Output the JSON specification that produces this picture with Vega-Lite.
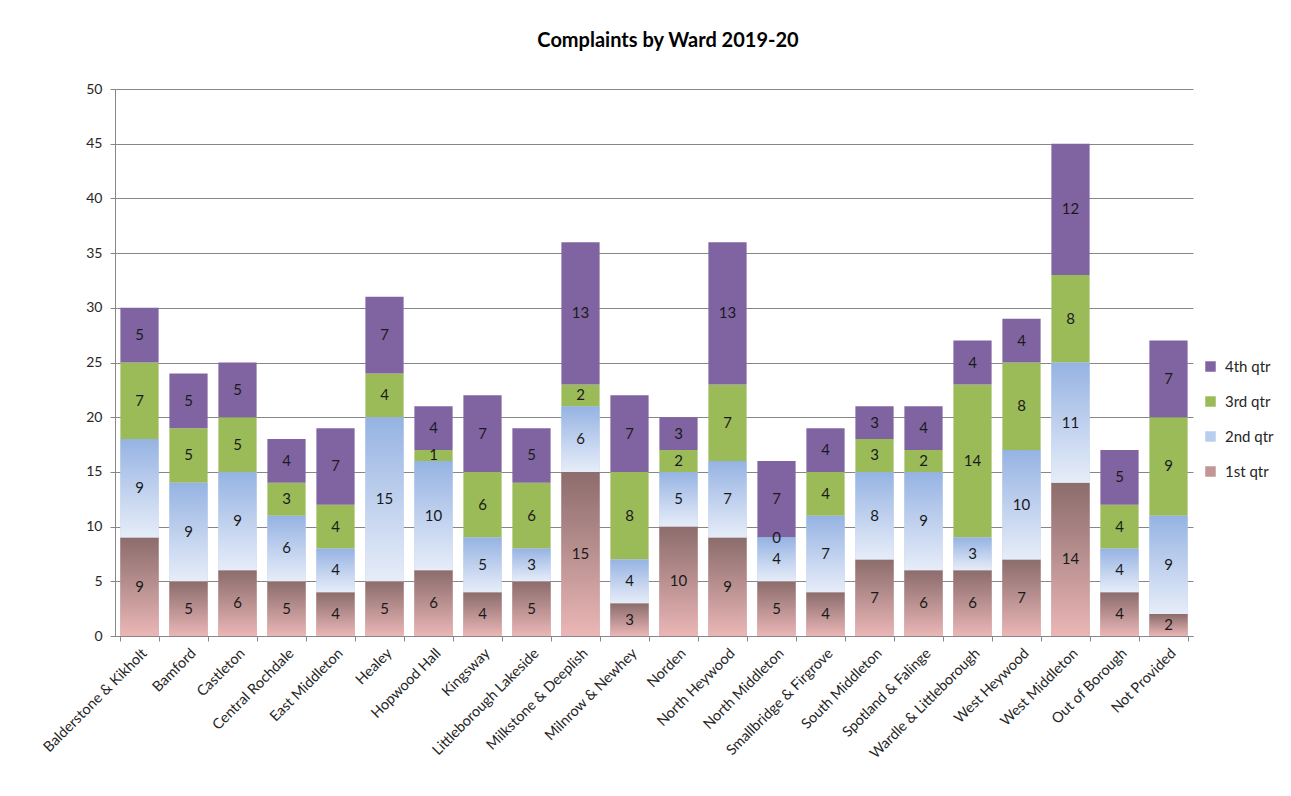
{
  "$schema": "https://vega.github.io/schema/vega-lite/v6.json",
  "autosize": "none",
  "width": 1078,
  "height": 547,
  "padding": {"left": 115, "top": 89, "right": 98, "bottom": 160},
  "background": "white",
  "title": {"text": "Complaints by Ward 2019-20", "font": "Lato", "fontSize": 20, "fontWeight": "bold", "color": "#000000", "offset": 31, "dx": 14},
  "data": {"values": [
    {"ward": "Balderstone & Kikholt", "1st qtr": 9, "2nd qtr": 9, "3rd qtr": 7, "4th qtr": 5},
    {"ward": "Bamford", "1st qtr": 5, "2nd qtr": 9, "3rd qtr": 5, "4th qtr": 5},
    {"ward": "Castleton", "1st qtr": 6, "2nd qtr": 9, "3rd qtr": 5, "4th qtr": 5},
    {"ward": "Central Rochdale", "1st qtr": 5, "2nd qtr": 6, "3rd qtr": 3, "4th qtr": 4},
    {"ward": "East Middleton", "1st qtr": 4, "2nd qtr": 4, "3rd qtr": 4, "4th qtr": 7},
    {"ward": "Healey", "1st qtr": 5, "2nd qtr": 15, "3rd qtr": 4, "4th qtr": 7},
    {"ward": "Hopwood Hall", "1st qtr": 6, "2nd qtr": 10, "3rd qtr": 1, "4th qtr": 4},
    {"ward": "Kingsway", "1st qtr": 4, "2nd qtr": 5, "3rd qtr": 6, "4th qtr": 7},
    {"ward": "Littleborough Lakeside", "1st qtr": 5, "2nd qtr": 3, "3rd qtr": 6, "4th qtr": 5},
    {"ward": "Milkstone & Deeplish", "1st qtr": 15, "2nd qtr": 6, "3rd qtr": 2, "4th qtr": 13},
    {"ward": "Milnrow & Newhey", "1st qtr": 3, "2nd qtr": 4, "3rd qtr": 8, "4th qtr": 7},
    {"ward": "Norden", "1st qtr": 10, "2nd qtr": 5, "3rd qtr": 2, "4th qtr": 3},
    {"ward": "North Heywood", "1st qtr": 9, "2nd qtr": 7, "3rd qtr": 7, "4th qtr": 13},
    {"ward": "North Middleton", "1st qtr": 5, "2nd qtr": 4, "3rd qtr": 0, "4th qtr": 7},
    {"ward": "Smallbridge & Firgrove", "1st qtr": 4, "2nd qtr": 7, "3rd qtr": 4, "4th qtr": 4},
    {"ward": "South Middleton", "1st qtr": 7, "2nd qtr": 8, "3rd qtr": 3, "4th qtr": 3},
    {"ward": "Spotland & Falinge", "1st qtr": 6, "2nd qtr": 9, "3rd qtr": 2, "4th qtr": 4},
    {"ward": "Wardle & Littleborough", "1st qtr": 6, "2nd qtr": 3, "3rd qtr": 14, "4th qtr": 4},
    {"ward": "West Heywood", "1st qtr": 7, "2nd qtr": 10, "3rd qtr": 8, "4th qtr": 4},
    {"ward": "West Middleton", "1st qtr": 14, "2nd qtr": 11, "3rd qtr": 8, "4th qtr": 12},
    {"ward": "Out of Borough", "1st qtr": 4, "2nd qtr": 4, "3rd qtr": 4, "4th qtr": 5},
    {"ward": "Not Provided", "1st qtr": 2, "2nd qtr": 9, "3rd qtr": 9, "4th qtr": 7}
  ]},
  "transform": [
    {"fold": ["1st qtr", "2nd qtr", "3rd qtr", "4th qtr"], "as": ["qtr", "value"]},
    {"stack": "value", "groupby": ["ward"], "sort": [{"field": "qtr", "order": "ascending"}], "as": ["v0", "v1"]},
    {"calculate": "(datum.v0 + datum.v1) / 2", "as": "mid"}
  ],
  "encoding": {
    "x": {
      "field": "ward", "type": "nominal", "sort": null,
      "scale": {"paddingInner": 0.22, "paddingOuter": 0.11},
      "axis": {
        "title": null, "labelAngle": -45, "labelFont": "Lato", "labelFontSize": 14.5, "labelColor": "#262626",
        "tickBand": "extent", "ticks": true, "tickSize": 5, "tickColor": "#878787", "domainColor": "#878787",
        "labelPadding": 5, "grid": false
      }
    }
  },
  "layer": [
    {
      "mark": {"type": "bar"},
      "encoding": {
        "y": {
          "field": "v1", "type": "quantitative", "scale": {"domain": [0, 50]},
          "axis": {
            "title": null, "values": [0, 5, 10, 15, 20, 25, 30, 35, 40, 45, 50],
            "labelFont": "Lato", "labelFontSize": 14, "labelColor": "#262626", "labelPadding": 8,
            "grid": true, "gridColor": "#878787", "domainColor": "#878787", "tickColor": "#878787", "tickSize": 5
          }
        },
        "y2": {"field": "v0"},
        "color": {
          "field": "qtr", "type": "nominal",
          "scale": {"domain": ["4th qtr", "3rd qtr", "2nd qtr", "1st qtr"], "range": ["#8064A2", "#9BBB59", "#B9CDEE", "#C49595"]},
          "legend": {
            "title": null, "orient": "none", "legendX": 1088, "legendY": 270,
            "symbolType": "square", "symbolSize": 110, "symbolStrokeWidth": 0,
            "labelFont": "Lato", "labelFontSize": 15, "labelColor": "#262626", "rowPadding": 19, "labelOffset": 7
          }
        }
      }
    },
    {
      "transform": [{"filter": "datum.qtr === '1st qtr'"}],
      "mark": {"type": "bar", "color": {"gradient": "linear", "x1": 0, "y1": 0, "x2": 0, "y2": 1,
        "stops": [{"offset": 0, "color": "#8C6C6C"}, {"offset": 0.45, "color": "#B58D8D"}, {"offset": 1, "color": "#EBB6B6"}]}},
      "encoding": {"y": {"field": "v1", "type": "quantitative"}, "y2": {"field": "v0"}}
    },
    {
      "transform": [{"filter": "datum.qtr === '2nd qtr'"}],
      "mark": {"type": "bar", "color": {"gradient": "linear", "x1": 0, "y1": 0, "x2": 0, "y2": 1,
        "stops": [{"offset": 0, "color": "#95B3E2"}, {"offset": 0.5, "color": "#BFD0EE"}, {"offset": 1, "color": "#E6EDF8"}]}},
      "encoding": {"y": {"field": "v1", "type": "quantitative"}, "y2": {"field": "v0"}}
    },
    {
      "mark": {"type": "text", "font": "Lato", "fontSize": 15, "color": "#1a1a1a", "baseline": "middle"},
      "encoding": {"y": {"field": "mid", "type": "quantitative"}, "text": {"field": "value", "type": "quantitative"}}
    }
  ],
  "config": {"view": {"stroke": null}}
}
